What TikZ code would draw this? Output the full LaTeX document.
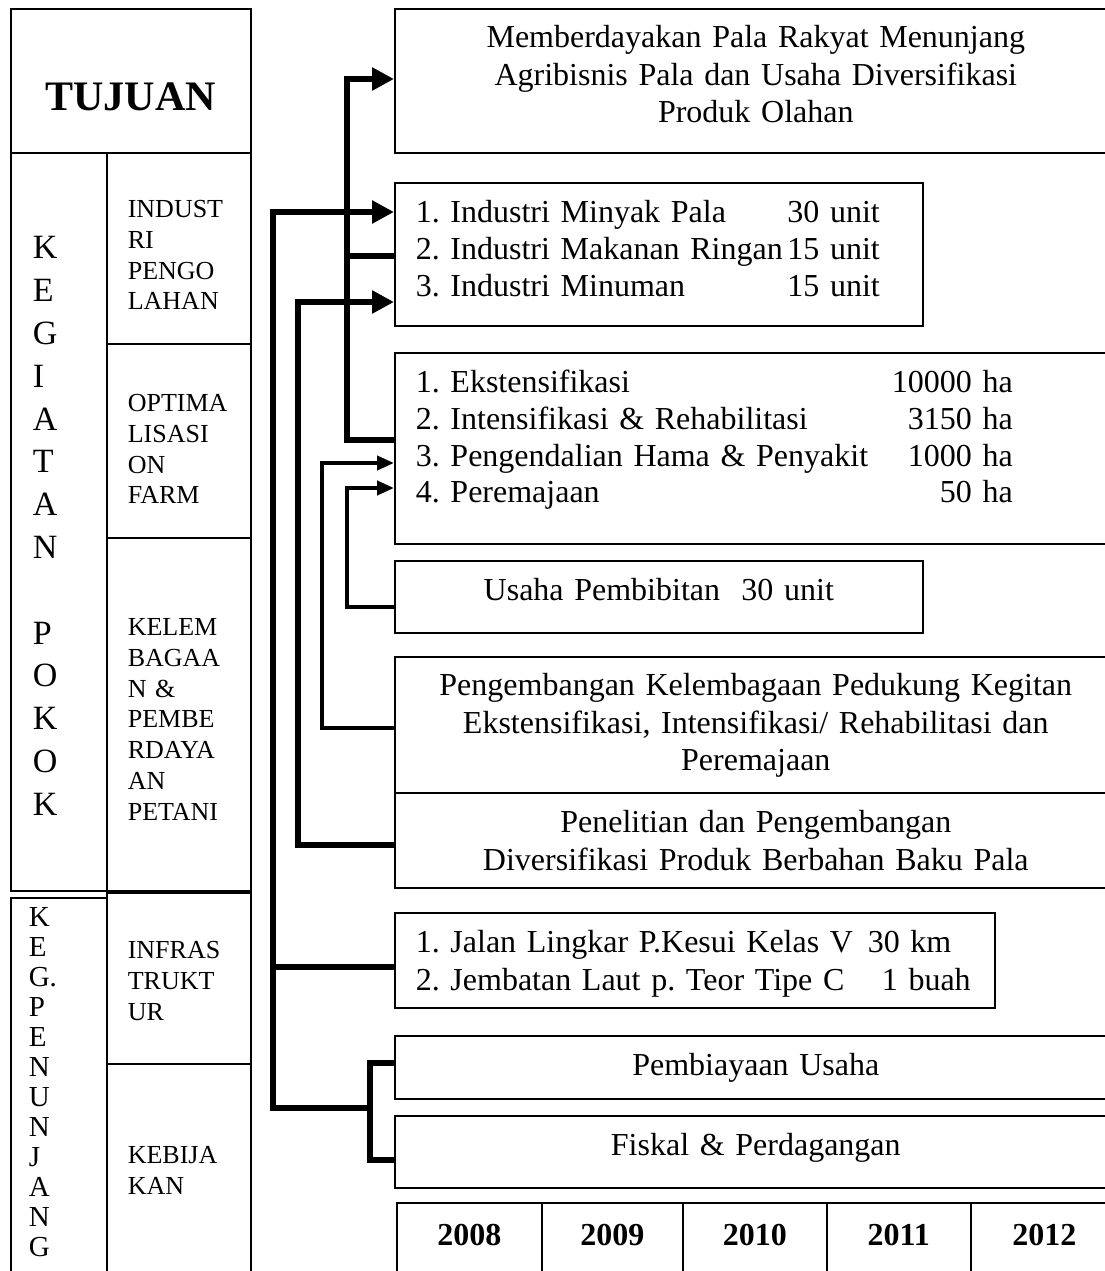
\documentclass[tikz,border=0pt]{standalone}
\usepackage{fontspec}
\setmainfont{Liberation Serif}
\usetikzlibrary{calc, arrows.meta, positioning}
\newcommand{\fsmain}{\fontsize{32}{37.5}\selectfont}
\newcommand{\fslist}{\fontsize{32}{36.6}\selectfont}
\newcommand{\fscell}{\fontsize{26}{30.7}\selectfont}
\newcommand{\fsletter}{\fontsize{34}{42.8}\selectfont}
\newcommand{\fsside}{\fontsize{29}{30}\selectfont}
\hyphenpenalty=10000
\exhyphenpenalty=10000
\frenchspacing

\begin{document}
\begin{tikzpicture}[x=1pt, y=-1pt,
    box/.style={draw, line width=1.6pt, anchor=north west, inner ysep=0pt, inner xsep=21pt},
    cell/.style={box, align=left, text width=102pt, font=\fscell},
    yearcell/.style={box, inner xsep=0pt, align=center, text height=43pt, text depth=45pt, font=\fsmain\bfseries},
    bus/.style={line width=6pt},
    thinbus/.style={line width=4pt},
    arr/.style={-{Triangle[length=22pt,width=22pt]}},
    arrs/.style={-{Triangle[length=17pt,width=14pt]}}]
    \useasboundingbox (0,0) rectangle (1104,1271);

    % left panel
    \node[box, inner xsep=0pt, align=center, text width=240pt, text height=102pt, text depth=42pt, font=\fontsize{42}{48}\selectfont\bfseries] (tuj) at (10,8) {TUJUAN};
    \node[box, inner xsep=22pt, align=left, text width=52pt, text height=106pt, text depth=632pt, font=\fsletter] (kp) at (10,152) {K\\E\\G\\I\\A\\T\\A\\N\\[42.8pt]P\\O\\K\\O\\K};
    \node[box, inner xsep=18pt, align=left, text width=60pt, text height=29pt, text depth=393pt, font=\fsside] (kpn) at (10,897) {K\\E\\G.\\P\\E\\N\\U\\N\\J\\A\\N\\G};
    \node[cell, text height=65pt, text depth=126pt] (ip) at (106,152) {INDUST\\RI\\PENGO\\LAHAN};
    \node[cell, text height=68pt, text depth=126pt] (opt) at (106,343) {OPTIMA\\LISASI\\ON\\FARM};
    \node[cell, text height=98pt, text depth=255pt] (kl) at (106,537) {KELEM\\BAGAA\\N \&\\PEMBE\\RDAYA\\AN\\PETANI};
    \node[cell, text height=66pt, text depth=105pt] (inf) at (106,892) {INFRAS\\TRUKT\\UR};
    \node[cell, text height=100pt, text depth=127pt] (keb) at (106,1063) {KEBIJA\\KAN};

    % right boxes
    \node[box, align=center, text width=680pt, text height=39pt, text depth=105pt, font=\fsmain] (goal) at (394,8)
        {Memberdayakan Pala Rakyat Menunjang\\Agribisnis Pala dan Usaha Diversifikasi\\Produk Olahan};
    \node[box, align=left, text width=486pt, text height=40pt, text depth=103pt, font=\fslist] (ind) at (394,182)
        {\makebox[464pt]{1. Industri Minyak Pala\hfill 30 unit}\\
         \makebox[464pt]{2. Industri Makanan Ringan\hfill 15 unit}\\
         \makebox[464pt]{3. Industri Minuman\hfill 15 unit}};
    \node[box, align=left, text width=680pt, text height=40pt, text depth=151pt, font=\fslist] (eks) at (394,352)
        {\makebox[597pt]{1. Ekstensifikasi\hfill 10000 ha}\\
         \makebox[597pt]{2. Intensifikasi \& Rehabilitasi\hfill 3150 ha}\\
         \makebox[597pt]{3. Pengendalian Hama \& Penyakit\hfill 1000 ha}\\
         \makebox[597pt]{4. Peremajaan\hfill 50 ha}};
    \node[box, align=center, text width=486pt, text height=40pt, text depth=32pt, font=\fsmain] (pbt) at (394,560)
        {Usaha Pembibitan\ \ 30 unit};
    \node[box, align=center, text width=680pt, text height=39pt, text depth=97pt, font=\fsmain] (kel) at (394,656)
        {Pengembangan Kelembagaan Pedukung Kegitan\\Ekstensifikasi, Intensifikasi/ Rehabilitasi dan\\Peremajaan};
    \node[box, align=center, text width=680pt, text height=40pt, text depth=55pt, font=\fsmain] (pen) at (394,792)
        {Penelitian dan Pengembangan\\Diversifikasi Produk Berbahan Baku Pala};
    \node[box, align=left, text width=558pt, text height=40pt, text depth=55pt, font=\fsmain] (jal) at (394,912)
        {\makebox[452pt][l]{1. Jalan Lingkar P.Kesui Kelas V}30 km\\
         \makebox[466pt][l]{2. Jembatan Laut p. Teor Tipe C}1 buah};
    \node[box, align=center, text width=680pt, text height=40pt, text depth=23pt, font=\fsmain] (pby) at (394,1035) {Pembiayaan Usaha};
    \node[box, align=center, text width=680pt, text height=40pt, text depth=32pt, font=\fsmain] (fis) at (394,1115) {Fiskal \& Perdagangan};

    % years
    \foreach \yr/\x/\w in {2008/396/145, 2009/541/141, 2010/682/144, 2011/826/144, 2012/970/147}
        \node[yearcell, text width=\w pt] (y\yr) at (\x,1202) {\yr};

    % connectors
    \draw[bus] ($(pby.north west)+(0,28)$) -- ++(-24,0) |- ($(fis.north west)+(0,45)$);
    \draw[bus, arr] ($(pby.north west)+(-24,73)$) -- ++(-97,0) |- ($(ind.north west)+(0,30)$);
    \draw[bus] ($(jal.north west)+(0,55)$) -- ++(-121,0);
    \draw[bus, arr] ($(pen.north west)+(0,53)$) -- ++(-96,0) |- ($(ind.north west)+(0,120)$);
    \draw[bus, arr] ($(eks.north west)+(0,88)$) -- ++(-47,0) |- ($(goal.north west)+(0,71)$);
    \draw[bus] ($(ind.north west)+(0,74)$) -- ++(-47,0);
    \draw[thinbus, arrs] ($(kel.north west)+(0,72)$) -- ++(-72,0) |- ($(eks.north west)+(0,111)$);
    \draw[thinbus, arrs] ($(pbt.north west)+(0,47)$) -- ++(-47,0) |- ($(eks.north west)+(0,136)$);
\end{tikzpicture}
\end{document}
